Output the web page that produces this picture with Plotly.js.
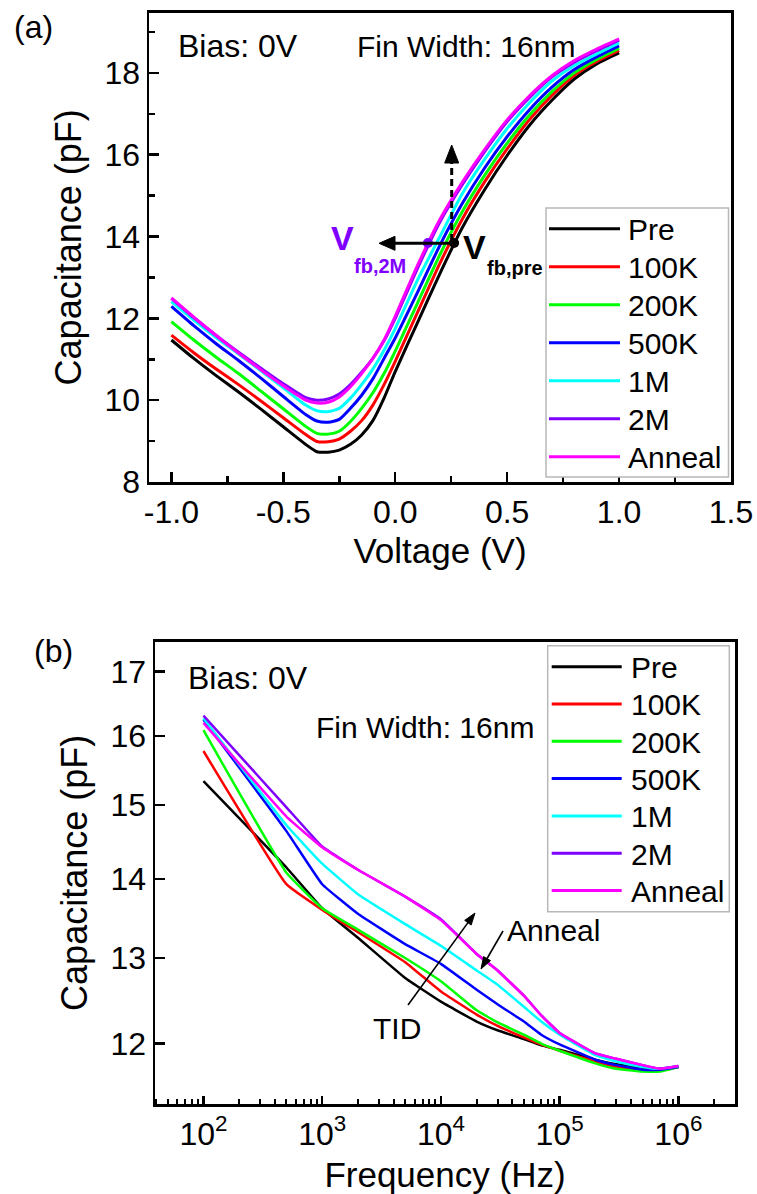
<!DOCTYPE html>
<html><head><meta charset="utf-8">
<script src="https://cdn.plot.ly/plotly-3.0.1.min.js"></script>
<style>html,body{margin:0;padding:0;background:#fff}</style>
</head><body><div id="chart" style="width:757px;height:1194px"></div>
<script>
// ---------- data: panel (a) C-V ----------
const seriesNames = ['Pre','100K','200K','500K','1M','2M','Anneal'];
const seriesColors = ['#000000','#FF0000','#00FF00','#0000FF','#00FFFF','#8000FF','#FF00FF'];
const voltage = [-1.0,-0.9,-0.8,-0.7,-0.6,-0.5,-0.4,-0.35,-0.3,-0.25,-0.2,-0.15,-0.1,-0.05,0.0,0.1,0.2,0.3,0.4,0.5,0.6,0.7,0.8,0.9,1.0];
const cvPre    = [11.47,11.02,10.60,10.20,9.78,9.35,8.92,8.74,8.73,8.78,8.92,9.15,9.50,10.05,10.70,11.90,13.10,14.22,15.15,15.98,16.72,17.33,17.85,18.22,18.49];
const cv100K   = [11.59,11.16,10.76,10.38,9.98,9.57,9.16,8.99,8.985,9.05,9.24,9.50,9.88,10.38,10.95,12.15,13.35,14.43,15.34,16.14,16.86,17.45,17.94,18.28,18.55];
const cv200K   = [11.92,11.47,11.05,10.65,10.22,9.79,9.36,9.19,9.17,9.24,9.48,9.80,10.18,10.65,11.20,12.38,13.56,14.61,15.50,16.28,16.97,17.54,18.00,18.33,18.60];
const cv500K   = [12.29,11.82,11.38,10.97,10.54,10.09,9.65,9.49,9.46,9.53,9.80,10.12,10.52,11.02,11.52,12.64,13.79,14.81,15.68,16.44,17.10,17.65,18.08,18.39,18.66];
const cv1M     = [12.41,11.96,11.53,11.13,10.72,10.30,9.88,9.74,9.72,9.80,10.05,10.38,10.76,11.22,11.75,12.94,14.00,15.05,15.89,16.64,17.27,17.80,18.18,18.46,18.73];
const cv2M     = [12.49,12.02,11.58,11.17,10.78,10.40,10.06,10.00,10.03,10.15,10.38,10.68,11.02,11.45,12.00,13.23,14.36,15.27,16.08,16.81,17.40,17.90,18.26,18.54,18.80];
const cvAnneal = [12.50,12.03,11.58,11.15,10.74,10.35,10.00,9.93,9.95,10.08,10.33,10.65,11.02,11.47,12.05,13.30,14.42,15.33,16.13,16.85,17.44,17.93,18.30,18.58,18.83];
const cvSeries = [cvPre,cv100K,cv200K,cv500K,cv1M,cv2M,cvAnneal];
// flat-band markers (Vfb,pre and Vfb,2M)
const vfbV = [0.263, 0.146];
const vfbC = [13.84, 13.84];
const vfbColors = ['#000000','#8000FF'];

// ---------- data: panel (b) C-f ----------
const freq = [100,500,1000,2000,5000,10000,20000,30000,50000,70000,100000,200000,300000,500000,700000,1000000];
const cfPre    = [15.34,14.15,13.62,13.25,12.76,12.48,12.25,12.15,12.05,11.98,11.93,11.82,11.77,11.73,11.72,11.74];
const cf100K   = [15.78,13.93,13.60,13.32,12.95,12.60,12.33,12.20,12.07,11.99,11.92,11.80,11.74,11.70,11.70,11.74];
const cf200K   = [16.09,14.08,13.62,13.35,13.00,12.72,12.38,12.24,12.10,12.00,11.92,11.78,11.72,11.69,11.69,11.74];
const cf500K   = [16.25,14.64,13.93,13.55,13.17,12.93,12.62,12.45,12.25,12.10,11.99,11.82,11.76,11.71,11.71,11.74];
const cf1M     = [16.27,14.72,14.20,13.80,13.42,13.15,12.85,12.68,12.42,12.25,12.10,11.87,11.80,11.74,11.72,11.75];
const cf2M     = [16.31,14.97,14.43,14.12,13.77,13.48,13.05,12.85,12.55,12.32,12.12,11.89,11.83,11.76,11.72,11.75];
const cfAnneal = [16.20,14.84,14.42,14.12,13.77,13.47,13.05,12.85,12.55,12.32,12.12,11.89,11.83,11.76,11.72,11.75];
const cfSeries = [cfPre,cf100K,cf200K,cf500K,cf1M,cf2M,cfAnneal];

const xTicksA = [-1,-0.5,0,0.5,1,1.5];
const xTickTextA = ['-1.0','-0.5','0.0','0.5','1.0','1.5'];
const yTicksA = [8,10,12,14,16,18];
const xTicksB = [100,1000,10000,100000,1000000];
const xTickTextB = ['10<sup>2</sup>','10<sup>3</sup>','10<sup>4</sup>','10<sup>5</sup>','10<sup>6</sup>'];
const yTicksB = [12,13,14,15,16,17];

// ---------- geometry helpers (page pixels -> paper) ----------
const W = 757, H = 1194;
const PX = x => x / W;
const PY = y => 1 - y / H;
const FONT = 'Arial, Liberation Sans, sans-serif';

const traces = [];
seriesNames.forEach((n, i) => {
  traces.push({x: voltage, y: cvSeries[i], name: n, type: 'scatter', mode: 'lines',
    line: {color: seriesColors[i], width: 3, shape: 'spline', smoothing: 0.6},
    xaxis: 'x', yaxis: 'y', showlegend: false, hoverinfo: 'skip'});
});
traces.push({x: vfbV, y: vfbC, type: 'scatter', mode: 'markers',
  marker: {color: vfbColors, size: 10}, xaxis: 'x', yaxis: 'y', showlegend: false, hoverinfo: 'skip'});
seriesNames.forEach((n, i) => {
  traces.push({x: freq, y: cfSeries[i], name: n, type: 'scatter', mode: 'lines',
    line: {color: seriesColors[i], width: 2.5, shape: 'spline', smoothing: 0.3},
    xaxis: 'x2', yaxis: 'y2', showlegend: false, hoverinfo: 'skip'});
});

const minorB = [];
[10,100,1000,10000,100000,1000000].forEach(d => { for (let k = 2; k <= 9; k++) { const v = k*d; if (v > 39 && v < 2.9e6) minorB.push(v); } });

const axCommon = {showline: true, linewidth: 2.5, linecolor: '#000', mirror: true, ticks: 'inside',
  ticklen: 10, tickwidth: 2.5, tickcolor: '#000', showgrid: false, zeroline: false,
  tickfont: {family: FONT, size: 32, color: '#000'}, automargin: false};

const annotations = [];
const shapes = [];
function txt(t, x, y, size, color, weight) {
  annotations.push({text: t, xref: 'paper', yref: 'paper', x: PX(x), y: PY(y),
    xanchor: 'left', yanchor: 'middle', showarrow: false,
    font: {family: FONT, size: size, color: color || '#000', weight: weight || 'normal'}});
}
// arrow drawn as a line plus a filled triangular head (page-pixel geometry)
function arrow(hx, hy, tx, ty, w, headLen, headW, dash) {
  const L = Math.hypot(hx - tx, hy - ty);
  const dx = (hx - tx) / L, dy = (hy - ty) / L;
  const bx = hx - dx * headLen, by = hy - dy * headLen;
  const nx = -dy, ny = dx;
  shapes.push({type: 'line', xref: 'paper', yref: 'paper', x0: PX(tx), y0: PY(ty), x1: PX(bx + dx), y1: PY(by + dy),
    line: {color: '#000', width: w, dash: dash || 'solid'}});
  const p1 = [bx + nx * headW / 2, by + ny * headW / 2], p2 = [bx - nx * headW / 2, by - ny * headW / 2];
  shapes.push({type: 'path', xref: 'paper', yref: 'paper',
    path: `M${PX(hx)},${PY(hy)} L${PX(p1[0])},${PY(p1[1])} L${PX(p2[0])},${PY(p2[1])} Z`,
    fillcolor: '#000', line: {color: '#000', width: 1}});
}

// panel labels and notes
txt('(a)', 12, 27, 32);
txt('Bias: 0V', 176, 46, 32);
txt('Fin Width: 16nm', 355, 46, 30);
txt('V', 329, 238, 34, '#8000FF', 'bold');
txt('fb,2M', 352, 266, 20, '#8000FF', 'bold');
txt('V', 461, 247, 34, '#000', 'bold');
txt('fb,pre', 485, 268, 20, '#000', 'bold');
arrow(379, 243.3, 454, 243.3, 3, 16, 14);
arrow(451.7, 145, 451.7, 241, 3, 18, 14, '7px,4px');

txt('(b)', 32, 651, 32);
txt('Bias: 0V', 186, 678, 32);
txt('Fin Width: 16nm', 314, 727, 30);
txt('TID', 371, 1028, 30);
txt('Anneal', 505, 930, 30);
arrow(475, 913, 408, 1005, 1.6, 12, 8);
arrow(481, 969, 503, 931, 1.6, 12, 8);

// custom legends (line samples + labels)
function legend(box, rowY0, step, lineX0, lineX1, textX) {
  shapes.push({type: 'rect', xref: 'paper', yref: 'paper', x0: PX(box[0]), x1: PX(box[1]), y0: PY(box[3]), y1: PY(box[2]),
    line: {color: '#b8b8b8', width: 1.5}, fillcolor: '#fff', layer: 'above'});
  seriesNames.forEach((n, i) => {
    const y = rowY0 + i * step;
    shapes.push({type: 'line', xref: 'paper', yref: 'paper', x0: PX(lineX0), x1: PX(lineX1), y0: PY(y), y1: PY(y),
      line: {color: seriesColors[i], width: 3}, layer: 'above'});
    txt(n, textX, y + 1, 30);
  });
}
legend([546, 728.5, 208, 477], 228.7, 38, 549, 620, 626);
legend([547.7, 729.3, 645.7, 911.7], 666.7, 37.3, 551.7, 621.7, 629);

const layout = {
  width: W, height: H, margin: {l: 0, r: 0, t: 0, b: 0},
  paper_bgcolor: '#fff', plot_bgcolor: '#fff', showlegend: false,
  xaxis: Object.assign({}, axCommon, {domain: [149/W, 731/W], anchor: 'y', range: [-1.1, 1.5],
    tickmode: 'array', tickvals: xTicksA, ticktext: xTickTextA,
    minor: {tickmode: 'array', tickvals: [-0.75,-0.25,0.25,0.75,1.25], ticks: 'inside', ticklen: 6, tickwidth: 2.5, tickcolor: '#000', showgrid: false},
    title: {text: 'Voltage (V)', font: {family: FONT, size: 35, color: '#000'}, standoff: 10}}),
  yaxis: Object.assign({}, axCommon, {domain: [1 - 482/H, 1 - 12.7/H], anchor: 'x', range: [8, 19.47],
    tickmode: 'array', tickvals: yTicksA,
    minor: {tickmode: 'array', tickvals: [9,11,13,15,17,19], ticks: 'inside', ticklen: 6, tickwidth: 2.5, tickcolor: '#000', showgrid: false},
    title: {text: 'Capacitance (pF)', font: {family: FONT, size: 36, color: '#000'}, standoff: 12}}),
  xaxis2: Object.assign({}, axCommon, {domain: [155/W, 735/W], anchor: 'y2', type: 'log', range: [1.592, 6.477],
    tickmode: 'array', tickvals: xTicksB, ticktext: xTickTextB, ticklen: 8,
    minor: {tickmode: 'array', tickvals: minorB, ticks: 'inside', ticklen: 5, tickwidth: 2, tickcolor: '#000', showgrid: false},
    title: {text: 'Frequency (Hz)', font: {family: FONT, size: 35, color: '#000'}, standoff: 18}}),
  yaxis2: Object.assign({}, axCommon, {domain: [1 - 1104/H, 1 - 641.7/H], anchor: 'x2', type: 'log',
    range: [Math.log10(11.34), Math.log10(17.48)], tickmode: 'array', tickvals: yTicksB, ticktext: yTicksB.map(String),
    title: {text: 'Capacitance (pF)', font: {family: FONT, size: 36, color: '#000'}, standoff: 12}}),
  annotations: annotations, shapes: shapes
};

Plotly.newPlot('chart', traces, layout, {staticPlot: true, displayModeBar: false});
</script></body></html>
